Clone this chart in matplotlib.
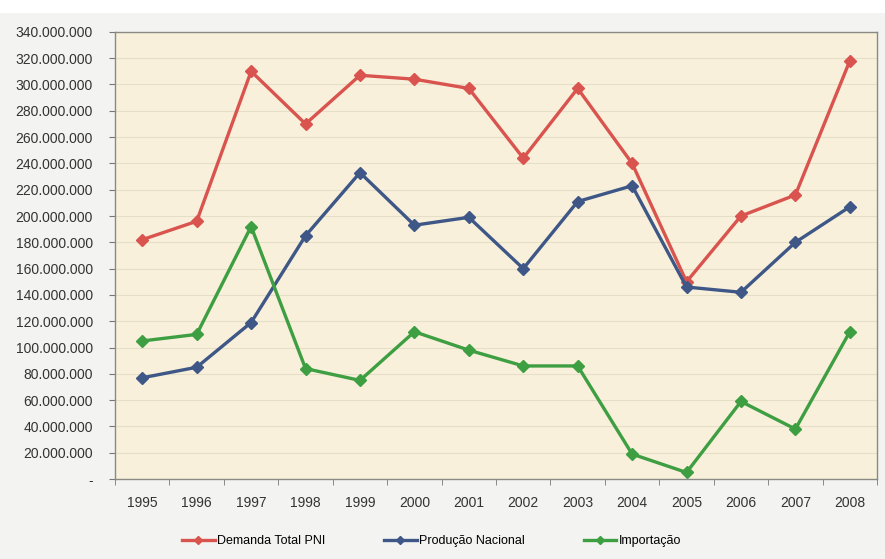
import numpy as np
import matplotlib
matplotlib.use("Agg")
import matplotlib.pyplot as plt
from matplotlib.patches import Rectangle
from matplotlib.ticker import FuncFormatter, FixedLocator

anos = ["1995", "1996", "1997", "1998", "1999", "2000", "2001",
        "2002", "2003", "2004", "2005", "2006", "2007", "2008"]

# valores em milhoes
demanda_total = [182, 196, 310, 270, 307, 304, 297, 244, 297, 240, 150, 200, 216, 318]
producao_nacional = [77, 85, 119, 185, 233, 193, 199, 160, 211, 223, 146, 142, 180, 207]
importacao = [105, 110, 192, 84, 75, 112, 98, 86, 86, 19, 5, 59, 38, 112]

series = [
    ("Demanda Total PNI", demanda_total, "#d9534f"),
    ("Produção Nacional", producao_nacional, "#3e5787"),
    ("Importação", importacao, "#3e9e42"),
]

plt.rcParams["font.family"] = ["Liberation Sans", "DejaVu Sans"]

fig = plt.figure(figsize=(8.85, 5.59), dpi=100, facecolor="#f3f3f1")
# faixa branca no topo (scan)
fig.patches.append(Rectangle((0, 0.977), 1, 0.023, transform=fig.transFigure,
                             facecolor="white", edgecolor="none", zorder=-1))
ax = fig.add_axes([0.130, 0.143, 0.861, 0.800])
ax.set_facecolor("#f8f0da")

x = np.arange(len(anos))
for nome, valores, cor in series:
    ax.plot(x, np.array(valores) * 1e6, color=cor, lw=2.4, marker="D",
            markersize=6.5, markeredgecolor=cor, label=nome)

ax.set_xlim(-0.5, len(anos) - 0.5)
ax.set_ylim(0, 340e6)
ax.set_yticks(np.arange(0, 340e6 + 1, 20e6))


def fmt(v, pos):
    if v == 0:
        return "-"
    return f"{int(round(v)):,}".replace(",", ".")


ax.yaxis.set_major_formatter(FuncFormatter(fmt))
ax.set_xticks(x)
ax.set_xticklabels(anos)
ax.tick_params(axis="x", length=0, pad=12, labelsize=10, colors="#333333")
ax.xaxis.set_minor_locator(FixedLocator(np.arange(-0.5, len(anos), 1.0)))
ax.tick_params(axis="x", which="minor", length=4, direction="out", color="#777777")
ax.tick_params(axis="y", length=4, direction="out", color="#777777",
               labelsize=10, labelcolor="#333333", pad=12)

ax.grid(axis="y", color="#e6dfc8", lw=0.8)
ax.set_axisbelow(True)
for s in ax.spines.values():
    s.set_color("#8a8a84")
    s.set_linewidth(1.0)

fig.legend(loc="center", bbox_to_anchor=(0.4876, 0.032), ncol=3, frameon=False,
           fontsize=9, handlelength=2.6, handletextpad=0.2, columnspacing=4.7,
           markerscale=0.6)

fig.savefig("out.png", dpi=100, facecolor=fig.get_facecolor())
